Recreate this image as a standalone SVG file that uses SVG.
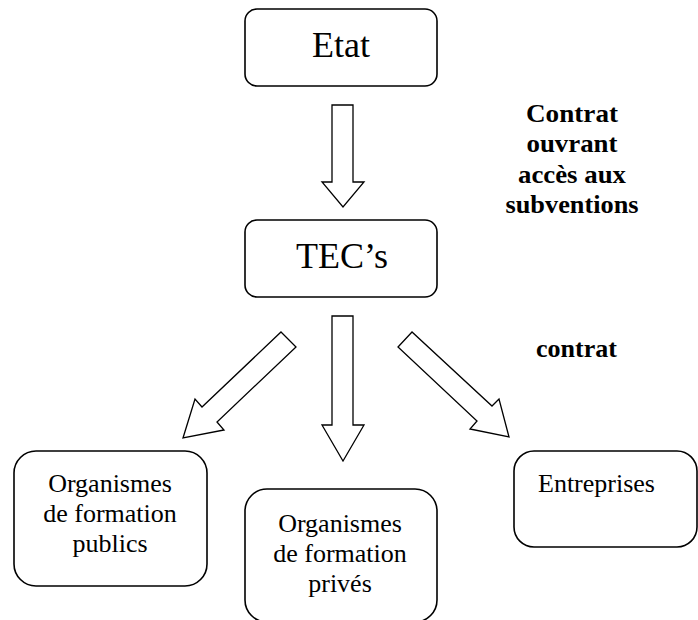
<svg xmlns="http://www.w3.org/2000/svg" width="698" height="620" viewBox="0 0 698 620">
<style>
.box{fill:#fff;stroke:#000;stroke-width:1.6}
.arr{fill:#fff;stroke:#000;stroke-width:1.3;stroke-linejoin:miter}
.big{font-family:"Liberation Serif","Times New Roman",serif;font-size:36px;fill:#000}
.t{font-family:"Liberation Serif","Times New Roman",serif;font-size:26px;fill:#000}
.b{font-family:"Liberation Serif","Times New Roman",serif;font-size:26px;font-weight:bold;fill:#000}
</style>
<rect width="698" height="620" fill="#fff"/>
<g id="connectors">
<polygon class="arr" points="332,105 353,105 353,182 364,182 343,207 322,182 332,182"/>
<polygon class="arr" points="332,316 353,316 353,425 364,425 343,461 322,425 332,425"/>
<polygon class="arr" points="281,332 296,347 217,422 224,430 183,438 195,399 202,407"/>
<polygon class="arr" points="412,332 398,347 477,421 470,429 509,437 499,399 492,406"/>
</g>
<g id="node-etat">
<rect class="box" x="245" y="9" width="192" height="77" rx="12"/>
<text class="big" x="341" y="57" text-anchor="middle">Etat</text>
</g>
<g id="node-tec">
<rect class="box" x="245" y="220" width="192" height="77" rx="12"/>
<text class="big" x="342" y="268" text-anchor="middle">TEC’s</text>
</g>
<g id="label-contrat-etat">
<text class="b" x="572" y="122" text-anchor="middle" textLength="92" lengthAdjust="spacingAndGlyphs">Contrat</text>
<text class="b" x="572" y="152" text-anchor="middle" textLength="91" lengthAdjust="spacingAndGlyphs">ouvrant</text>
<text class="b" x="572" y="183" text-anchor="middle" textLength="108" lengthAdjust="spacingAndGlyphs">accès aux</text>
<text class="b" x="572" y="213" text-anchor="middle" textLength="133" lengthAdjust="spacingAndGlyphs">subventions</text>
</g>
<g id="label-contrat">
<text class="b" x="536" y="357" textLength="81" lengthAdjust="spacingAndGlyphs">contrat</text>
</g>
<g id="node-publics">
<rect class="box" x="14" y="451" width="193" height="135" rx="22"/>
<text class="t" x="110" y="492" text-anchor="middle">Organismes</text>
<text class="t" x="110" y="522" text-anchor="middle">de formation</text>
<text class="t" x="110" y="552" text-anchor="middle">publics</text>
</g>
<g id="node-prives">
<rect class="box" x="245" y="489" width="192" height="133" rx="22"/>
<text class="t" x="340" y="532" text-anchor="middle">Organismes</text>
<text class="t" x="340" y="562" text-anchor="middle">de formation</text>
<text class="t" x="340" y="592" text-anchor="middle">privés</text>
</g>
<g id="node-entreprises">
<rect class="box" x="514" y="451" width="183" height="96" rx="20"/>
<text class="t" x="538" y="492">Entreprises</text>
</g>
</svg>
